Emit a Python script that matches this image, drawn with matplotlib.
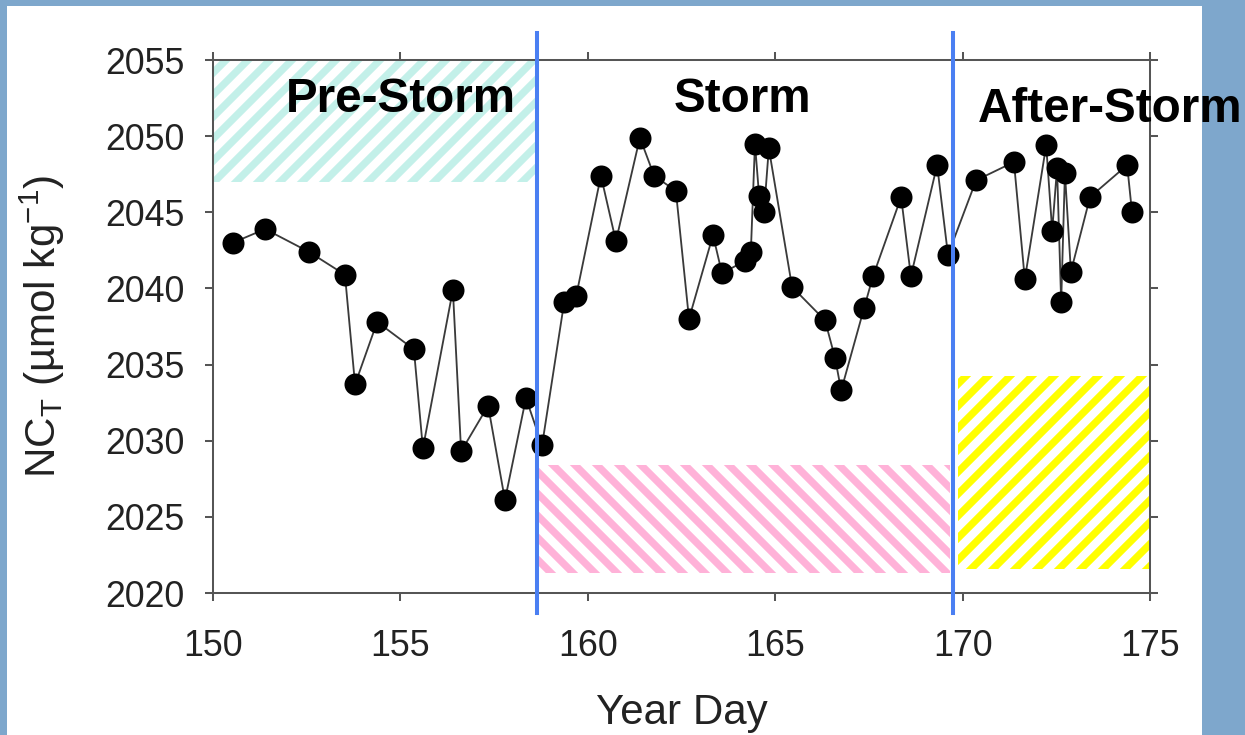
import matplotlib
matplotlib.use("Agg")
import matplotlib.pyplot as plt
from matplotlib.patches import Rectangle

DPI = 132
plt.rcParams.update({
    "font.family": "Liberation Sans",
    "mathtext.fontset": "custom",
    "mathtext.rm": "Liberation Sans",
    "mathtext.it": "Liberation Sans:italic",
    "hatch.linewidth": 4.0,
})

# ── Data ──────────────────────────────────────────────────────────────────────
year_day = [150.53, 151.39, 152.56, 153.52, 153.79, 154.38, 155.36, 155.60,
            156.40, 156.62, 157.34, 157.79, 158.35, 158.78, 159.37, 159.69,
            160.35, 160.75, 161.39, 161.77, 162.35, 162.70, 163.34, 163.58,
            164.19, 164.35, 164.46, 164.57, 164.70, 164.83, 165.45, 166.33,
            166.60, 166.76, 167.37, 167.61, 168.36, 168.62, 169.32, 169.61,
            170.36, 171.37, 171.66, 172.23, 172.39, 172.52, 172.63, 172.73,
            172.89, 173.40, 174.39, 174.52]
nct = [2043.0, 2043.9, 2042.4, 2040.9, 2033.7, 2037.8, 2036.0, 2029.5,
       2039.9, 2029.3, 2032.3, 2026.1, 2032.8, 2029.7, 2039.1, 2039.5,
       2047.4, 2043.1, 2049.9, 2047.4, 2046.4, 2038.0, 2043.5, 2041.0,
       2041.8, 2042.4, 2049.5, 2046.1, 2045.0, 2049.2, 2040.1, 2037.9,
       2035.4, 2033.3, 2038.7, 2040.8, 2046.0, 2040.8, 2048.1, 2042.2,
       2047.1, 2048.3, 2040.6, 2049.4, 2043.8, 2047.9, 2039.1, 2047.6,
       2041.1, 2046.0, 2048.1, 2045.0]

boundaries = [158.64, 169.74]

region_names = ["Pre-Storm", "Storm", "After-Storm"]
region_x0 = [150.0, 158.70, 169.88]
region_x1 = [158.60, 169.66, 175.0]
region_y0 = [2047.0, 2021.3, 2021.6]
region_y1 = [2055.0, 2028.4, 2034.25]
region_hatch = ["//", "\\\\", "//"]
region_color = ["#c3f0e9", "#ffb2d8", "#ffff00"]

label_x = [155.02, 164.14, 170.41]
label_y = [2051.6, 2051.6, 2050.9]
label_ha = ["center", "center", "left"]

x_ticks = [150, 155, 160, 165, 170, 175]
y_ticks = [2020, 2025, 2030, 2035, 2040, 2045, 2050, 2055]

# ── Figure ────────────────────────────────────────────────────────────────────
fig = plt.figure(figsize=(1245 / DPI, 735 / DPI), dpi=DPI, facecolor="#7ea7cc")
fig.patches.append(Rectangle((7 / 1245, 0), (1202 - 7) / 1245, (735 - 6) / 735,
                             transform=fig.transFigure, facecolor="white",
                             edgecolor="none", zorder=-10))

ax = fig.add_axes([213 / 1245, (735 - 593) / 735, (1150 - 213) / 1245, (593 - 60) / 735])
ax.set_zorder(2)
ax.set_facecolor("white")

for x0, x1, y0, y1, h, c in zip(region_x0, region_x1, region_y0, region_y1,
                                region_hatch, region_color):
    ax.add_patch(Rectangle((x0, y0), x1 - x0, y1 - y0, facecolor="white",
                           edgecolor=c, linewidth=0, hatch=h, zorder=1))

ax.plot(year_day, nct, color="#3a3a3a", linewidth=1.0, marker="o",
        markersize=11, markerfacecolor="black", markeredgecolor="black", zorder=3)

for b in boundaries:
    ax.axvline(b, ymin=-0.0375, ymax=1.05, color="#4a7ff2", linewidth=2.2,
               clip_on=False, zorder=5)

for name, x, y, ha in zip(region_names, label_x, label_y, label_ha):
    ax.text(x, y, name, ha=ha, va="baseline", fontsize=26, fontweight="bold",
            color="black", zorder=6, clip_on=False)

ax.set_xlim(150, 175)
ax.set_ylim(2020, 2055)
ax.set_xticks(x_ticks)
ax.set_yticks(y_ticks)

for side in ["left", "right", "top", "bottom"]:
    ax.spines[side].set_color("#555555")
    ax.spines[side].set_linewidth(1.1)
ax.tick_params(axis="both", which="both", direction="out", length=4.5, width=1.1,
               color="#555555", labelsize=19.5, labelcolor="#222222",
               top=True, right=True, labeltop=False, labelright=False)
ax.tick_params(axis="y", pad=11)
ax.tick_params(axis="x", pad=15)

ax.set_xlabel("Year Day", fontsize=23, color="#222222", labelpad=16)
ax.set_ylabel(r"NC$_\mathrm{T}$ (µmol kg$^{-1}$)", fontsize=23,
              color="#222222", labelpad=21)

fig.savefig("out.png", dpi=DPI, facecolor=fig.get_facecolor())
